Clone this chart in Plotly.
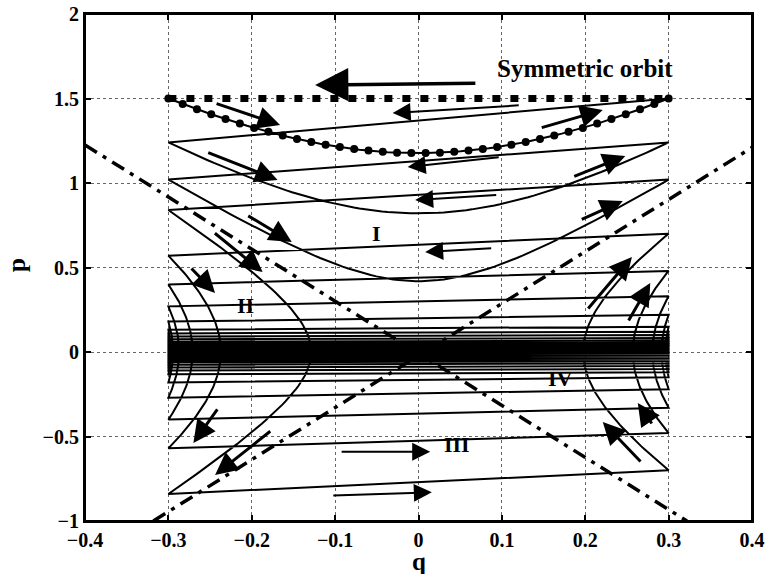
import numpy as np
import plotly.graph_objects as go

# ---- values ----
q_wall = 0.3                 # orbit walls (periodic in q)
sym_p_wall = 1.5             # symmetric orbit momentum at the walls
sym_p_min = 1.177            # symmetric orbit momentum at q = 0
# momentum magnitudes at successive wall crossings of the decaying orbit
wall_p = [1.50, 1.24, 1.02, 0.84, 0.70, 0.57, 0.48, 0.40, 0.33, 0.27, 0.22,
          0.18, 0.15, 0.132, 0.12, 0.11, 0.1, 0.091, 0.083, 0.075, 0.068,
          0.061, 0.055, 0.049, 0.044, 0.039, 0.035, 0.031, 0.027, 0.024,
          0.021, 0.018, 0.015, 0.013, 0.011, 0.009, 0.0075, 0.006, 0.005,
          0.004, 0.003, 0.002]
n_region_I = 3               # first crossings that pass over the saddle (region I)

# separatrices (dash-dot)
sep1_q = [-0.4, 0.322]
sep1_p = [1.225, -1.0]
sep2_q = [-0.318, 0.4]
sep2_p = [-1.0, 1.21]

# arrows: tail -> head
arr_tail_q = [0.070, -0.244, -0.254, -0.206, -0.246, -0.274, -0.240, -0.176,
              0.146, 0.185, 0.194, 0.098, 0.095, 0.089, 0.122, 0.202, 0.251,
              0.281, 0.268, -0.094, -0.104]
arr_tail_p = [1.59, 1.473, 1.183, 0.811, 0.71, 0.503, -0.331, -0.462,
              1.325, 1.036, 0.781, 1.154, 0.929, 0.615, 1.46, 0.249, 0.178,
              -0.432, -0.657, -0.59, -0.85]
arr_head_q = [-0.124, -0.166, -0.169, -0.152, -0.187, -0.244, -0.270, -0.244,
              0.221, 0.248, 0.245, -0.013, -0.004, 0.008, -0.031, 0.256, 0.278,
              0.263, 0.221, 0.014, 0.016]
arr_head_p = [1.58, 1.343, 1.018, 0.651, 0.473, 0.349, -0.538, -0.728,
              1.432, 1.16, 0.893, 1.095, 0.899, 0.592, 1.414, 0.562, 0.408,
              -0.302, -0.414, -0.59, -0.83]
arr_kind = ["big", "t", "t", "t", "t", "t", "t", "t", "t", "t", "t",
            "s", "s", "s", "s", "t", "t", "t", "t", "s", "s"]

labels = ["I", "II", "III", "IV"]
label_q = [-0.05, -0.208, 0.046, 0.17]
label_p = [0.704, 0.278, -0.55, -0.154]
title_text = "Symmetric orbit"
title_q, title_p = 0.2, 1.68

x_ticks = [-0.4, -0.3, -0.2, -0.1, 0, 0.1, 0.2, 0.3, 0.4]
y_ticks = [-1, -0.5, 0, 0.5, 1, 1.5, 2]

# ---- build curves ----
lam2 = (sym_p_wall**2 - sym_p_min**2) / q_wall**2
n = 90
qs, ps = [], []
for k, m in enumerate(wall_p):
    nxt = wall_p[k + 1] if k + 1 < len(wall_p) else None
    if k < n_region_I:
        qq = np.linspace(-q_wall, q_wall, n)
        pp = np.sqrt(np.maximum(m**2 - lam2 * (q_wall**2 - qq**2), 0))
        qs += list(qq); ps += list(pp)
        if nxt is not None:
            qs += [q_wall, -q_wall]; ps += [m, nxt]
    elif k % 2 == 1:  # region II (left)
        pp = np.linspace(m, -m, n)
        qq = -np.sqrt(np.maximum(q_wall**2 - (m**2 - pp**2) / lam2, 0))
        qs += list(qq); ps += list(pp)
        if nxt is not None:
            qs += [-q_wall, q_wall]; ps += [-m, -nxt]
    else:  # region IV (right)
        pp = np.linspace(-m, m, n)
        qq = np.sqrt(np.maximum(q_wall**2 - (m**2 - pp**2) / lam2, 0))
        qs += list(qq); ps += list(pp)
        if nxt is not None:
            qs += [q_wall, -q_wall]; ps += [m, nxt]

fig = go.Figure()
fig.add_trace(go.Scatter(x=qs, y=ps, mode="lines",
                         line=dict(color="black", width=2), hoverinfo="skip"))

# separatrices
for sq, sp in [(sep1_q, sep1_p), (sep2_q, sep2_p)]:
    fig.add_trace(go.Scatter(x=sq, y=sp, mode="lines",
                             line=dict(color="black", width=3.5, dash="14px,7px,4px,7px"),
                             hoverinfo="skip"))

# symmetric orbit
sym_q = np.linspace(-q_wall, q_wall, 36)
sym_p = np.sqrt(sym_p_wall**2 - lam2 * (q_wall**2 - sym_q**2))
fig.add_trace(go.Scatter(x=sym_q, y=sym_p, mode="markers",
                         marker=dict(color="black", size=8, symbol="circle"),
                         hoverinfo="skip"))
fig.add_trace(go.Scatter(x=[-q_wall, q_wall], y=[sym_p_wall, sym_p_wall], mode="lines",
                         line=dict(color="black", width=7, dash="8px,10px"),
                         hoverinfo="skip"))

annotations = []
for tq, tp, hq, hp, kind in zip(arr_tail_q, arr_tail_p, arr_head_q, arr_head_p, arr_kind):
    w = {"big": 3.5, "t": 3.0, "s": 2.0}[kind]
    s = {"big": 1.9, "t": 1.5, "s": 1.8}[kind]
    annotations.append(dict(x=hq, y=hp, ax=tq, ay=tp, xref="x", yref="y",
                            axref="x", ayref="y", text="", showarrow=True,
                            arrowhead=2, arrowsize=s, arrowwidth=w,
                            arrowcolor="black", standoff=0, startstandoff=0))
for t, lq, lp in zip(labels, label_q, label_p):
    annotations.append(dict(x=lq, y=lp, xref="x", yref="y", text="<b>" + t + "</b>",
                            showarrow=False,
                            font=dict(family="Liberation Serif", size=22, color="black")))
annotations.append(dict(x=title_q, y=title_p, xref="x", yref="y", text="<b>" + title_text + "</b>",
                        showarrow=False,
                        font=dict(family="Liberation Serif", size=25, color="black")))
# axis titles
annotations.append(dict(x=0.5, y=-0.079, xref="paper", yref="paper", text="<b>q</b>",
                        showarrow=False, xanchor="center", yanchor="middle",
                        font=dict(family="Liberation Serif", size=25, color="black")))
annotations.append(dict(x=-0.102, y=0.505, xref="paper", yref="paper", text="<b>p</b>",
                        showarrow=False, xanchor="center", yanchor="middle", textangle=-90,
                        font=dict(family="Liberation Serif", size=25, color="black")))

axis_common = dict(showline=True, linecolor="black", linewidth=2, mirror="ticks",
                   ticks="inside", ticklen=6, tickwidth=1.5, tickcolor="black",
                   showgrid=True, gridcolor="#666666", gridwidth=1, griddash="dot",
                   zeroline=False, automargin=False, ticklabeloverflow="allow",
                   tickfont=dict(family="Liberation Serif", size=20, color="black"))

def fmt(v):
    return "<b>" + ("%g" % v).replace("-", "\u2212") + "</b>"

fig.update_layout(
    width=767, height=574,
    margin=dict(l=85, r=15, t=14, b=53),
    paper_bgcolor="white", plot_bgcolor="white",
    showlegend=False,
    annotations=annotations,
    shapes=[dict(type="rect", xref="paper", yref="paper", x0=0, x1=1, y0=0, y1=1,
                 line=dict(color="black", width=2), layer="above")],
    xaxis=dict(range=[-0.4, 0.4], tickvals=x_ticks, ticktext=[fmt(v) for v in x_ticks],
               **axis_common),
    yaxis=dict(range=[-1, 2], tickvals=y_ticks, ticktext=[fmt(v) for v in y_ticks],
               **axis_common),
)

# remove the default page margin so the figure fills the window exactly
fig.write_html("out.html", config={"displayModeBar": False},
               post_script="document.body.style.margin='0';document.body.style.overflow='hidden';")
